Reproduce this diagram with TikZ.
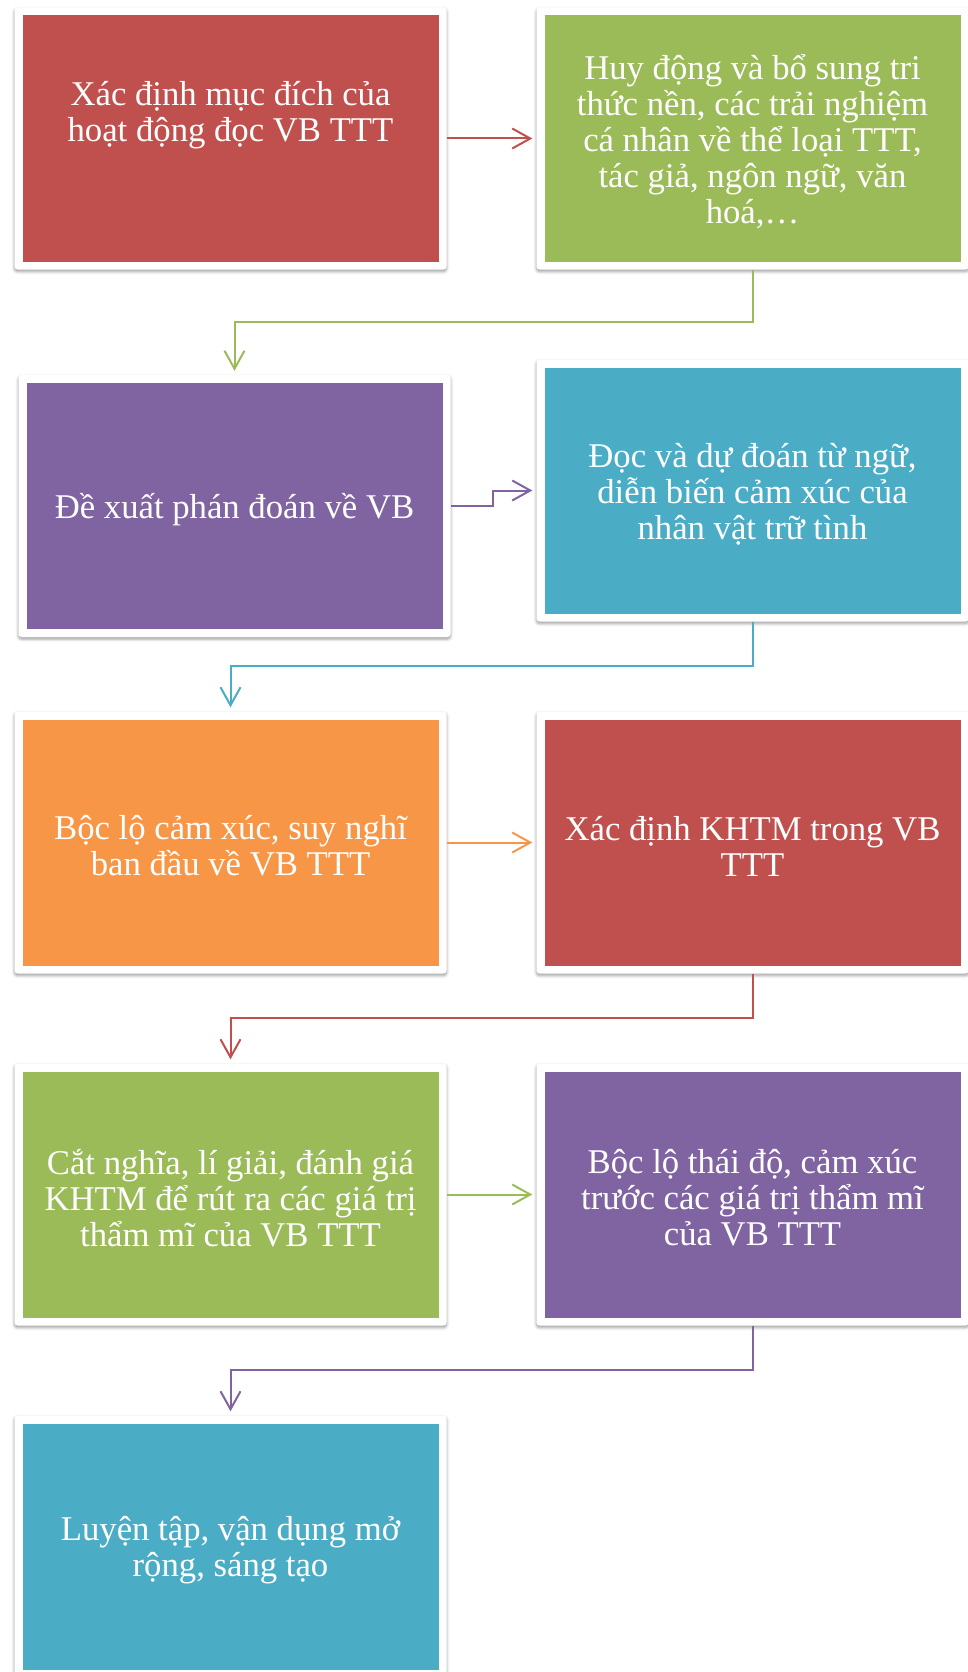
\documentclass[tikz,border=0pt]{standalone}
\usepackage{fontspec}
\setmainfont{Liberation Serif}
\usetikzlibrary{arrows.meta,shadows.blur}

\definecolor{cRed}{HTML}{C0504D}
\definecolor{cGreen}{HTML}{9BBB59}
\definecolor{cPurple}{HTML}{8064A2}
\definecolor{cBlue}{HTML}{4BACC6}
\definecolor{cOrange}{HTML}{F79646}

\tikzset{
  card/.style={
    minimum width=432pt, minimum height=262pt, inner sep=0pt,
    fill=white, rounded corners=3pt,
    blur shadow={shadow xshift=0pt, shadow yshift=-2pt,
                 shadow blur radius=3pt, shadow opacity=40},
    path picture={\fill[#1, sharp corners]
      ([shift={(8pt,8pt)}]path picture bounding box.south west) rectangle
      ([shift={(-8pt,-8pt)}]path picture bounding box.north east);}
  },
  txt/.style={text=white, align=center, inner sep=0pt,
    font=\fontsize{34.7}{36}\selectfont},
  link/.style={draw=#1, line width=2pt,
    -{Straight Barb[length=18pt,width=20pt]}, shorten >=4pt}
}

\begin{document}
\begin{tikzpicture}[x=1pt, y=-1pt]
\useasboundingbox (0,0) rectangle (968,1672);

% step cards, two columns
\node[card=cRed]    (f1) at (230.5,138.5) {};
\node[card=cGreen]  (f2) at (752.5,138.5) {};
\node[card=cPurple] (f3) at (234.5,506) {};
\node[card=cBlue]   (f4) at (752.5,490.5) {};
\node[card=cOrange] (f5) at (230.5,842.5) {};
\node[card=cRed]    (f6) at (752.5,842.5) {};
\node[card=cGreen]  (f7) at (230.5,1194.5) {};
\node[card=cPurple] (f8) at (752.5,1194.5) {};
\node[card=cBlue]   (f9) at (230.5,1546.5) {};

% card texts
\node[txt] (t1) at ([yshift=23pt]f1.center)
  {Xác định mục đích của\\hoạt động đọc VB TTT};
\node[txt] (t2) at ([yshift=-3.5pt]f2.center)
  {Huy động và bổ sung tri\\thức nền, các trải nghiệm\\cá nhân về thể loại TTT,\\tác giả, ngôn ngữ, văn\\hoá,…};
\node[txt] (t3) at ([yshift=-3.5pt]f3.center)
  {Đề xuất phán đoán về VB};
\node[txt] (t4) at ([yshift=-3.5pt]f4.center)
  {Đọc và dự đoán từ ngữ,\\diễn biến cảm xúc của\\nhân vật trữ tình};
\node[txt] (t5) at ([yshift=-3.5pt]f5.center)
  {Bộc lộ cảm xúc, suy nghĩ\\ban đầu về VB TTT};
\node[txt] (t6) at ([yshift=-3.5pt]f6.center)
  {Xác định KHTM trong VB\\TTT};
\node[txt] (t7) at ([yshift=-3.5pt]f7.center)
  {Cắt nghĩa, lí giải, đánh giá\\KHTM để rút ra các giá trị\\thẩm mĩ của VB TTT};
\node[txt] (t8) at ([yshift=-3.5pt]f8.center)
  {Bộc lộ thái độ, cảm xúc\\trước các giá trị thẩm mĩ\\của VB TTT};
\node[txt] (t9) at ([yshift=-3.5pt]f9.center)
  {Luyện tập, vận dụng mở\\rộng, sáng tạo};

% connectors
\draw[link=cRed]    (f1.east) -- (f2.west);
\draw[link=cGreen]  (f2.south) -- ++(0,52.5) -| (f3.north);
\draw[link=cPurple] (f3.east) -- ++(42.5,0) |- (f4.west);
\draw[link=cBlue]   (f4.south) -- ++(0,44.5) -| (f5.north);
\draw[link=cOrange] (f5.east) -- (f6.west);
\draw[link=cRed]    (f6.south) -- ++(0,44.5) -| (f7.north);
\draw[link=cGreen]  (f7.east) -- (f8.west);
\draw[link=cPurple] (f8.south) -- ++(0,44.5) -| (f9.north);
\end{tikzpicture}
\end{document}
